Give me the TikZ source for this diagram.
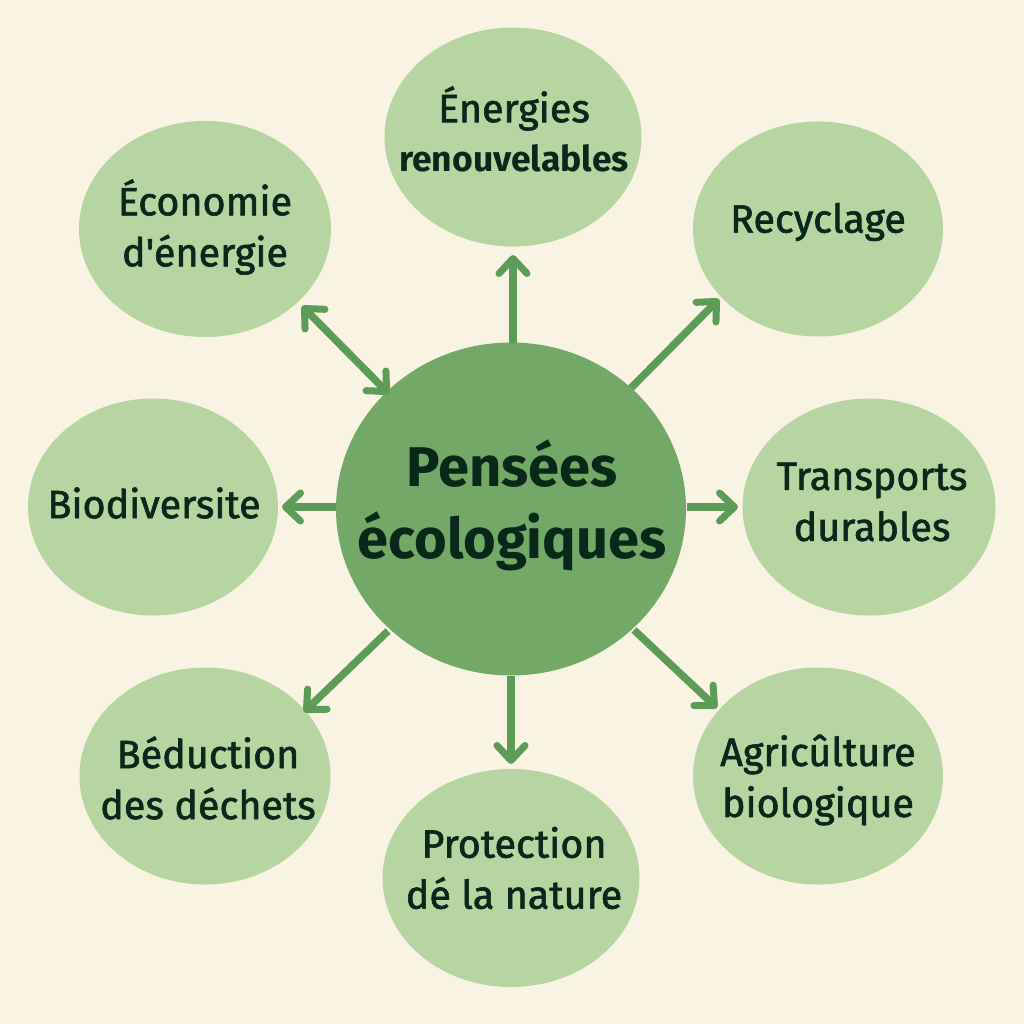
\documentclass[tikz,border=0pt]{standalone}
\usepackage{fontspec}
\setmainfont{Fira Sans}
\newfontfamily\labelfont[FakeBold=1.6]{Fira Sans}
\usetikzlibrary{shapes.geometric,arrows.meta}
\definecolor{bgc}{HTML}{F9F4E1}
\definecolor{outerc}{HTML}{B6D5A0}
\definecolor{innerc}{HTML}{72A966}
\definecolor{linec}{HTML}{5D9C56}
\definecolor{textc}{HTML}{08281A}
\tikzset{
 outernode/.style={ellipse,fill=outerc,inner sep=0pt},
 labeltext/.style={inner sep=0pt,text=textc,align=center,font=\labelfont\fontsize{39.5}{51}\selectfont},
 >={Straight Barb[length=15pt,width=28pt,line width=7pt,round]},
 link/.style={draw=linec,line width=7.5pt,->},
 twolink/.style={draw=linec,line width=7.5pt,<->}
}
\begin{document}
\begin{tikzpicture}[x=1pt,y=-1pt]
\useasboundingbox (0,0) rectangle (1024,1024);
\fill[bgc] (0,0) rectangle (1024,1024);
\node[ellipse,fill=innerc,minimum width=350pt,minimum height=333pt,inner sep=0pt] (c) at (511,509) {};
\node[inner sep=0pt,text=textc,align=center,font=\fontsize{56}{72}\selectfont\bfseries] (cl) at (512,505.5) {Pensées\\écologiques};
\node[outernode,minimum width=257pt,minimum height=219pt] (a) at (513,137) {};
\node[outernode,minimum width=250pt,minimum height=215pt] (b) at (818,229) {};
\node[outernode,minimum width=253pt,minimum height=217pt] (t) at (869,507) {};
\node[outernode,minimum width=250pt,minimum height=217pt] (g) at (818,776) {};
\node[outernode,minimum width=257pt,minimum height=218pt] (p) at (511,878) {};
\node[outernode,minimum width=251pt,minimum height=217pt] (r) at (205,776) {};
\node[outernode,minimum width=250pt,minimum height=217pt] (d) at (153,507) {};
\node[outernode,minimum width=252pt,minimum height=216pt] (e) at (205,229) {};
\node[labeltext,font=\labelfont\fontsize{39.5}{49}\selectfont] (al) at (514,129) {Énergies\\{\rmfamily\bfseries\fontsize{35.5}{49}\selectfont renouvelables}};
\node[labeltext] (bl) at (818,222) {Recyclage};
\node[labeltext] (tl) at (872,502) {Transports\\durables};
\node[labeltext] (gl) at (818,780) {Agricûlture\\biologique};
\node[labeltext] (pl) at (514,868) {Protection\\dé la nature};
\node[labeltext] (rl) at (208,778) {Béduction\\des déchets};
\node[labeltext] (dl) at (154,503) {Biodiversite};
\node[labeltext] (el) at (205,227) {Économie\\d'énergie};
\coordinate (ca) at (513,343); \coordinate (aa) at (513,255);
\coordinate (cb) at (631,388); \coordinate (bb) at (719,299);
\coordinate (ct) at (687,507); \coordinate (tt) at (738,507);
\coordinate (cg) at (634,630); \coordinate (gg) at (717,708);
\coordinate (cp) at (511,676); \coordinate (pp) at (511,764);
\coordinate (cr) at (388,631); \coordinate (rr) at (304,712);
\coordinate (cd) at (336,507); \coordinate (dd) at (282,507);
\coordinate (ce) at (389,394); \coordinate (ee) at (302,306);
\draw[link] (ca) -- (aa);
\draw[link] (cb) -- (bb);
\draw[link] (ct) -- (tt);
\draw[link] (cg) -- (gg);
\draw[link] (cp) -- (pp);
\draw[link] (cr) -- (rr);
\draw[link] (cd) -- (dd);
\draw[twolink] (ce) -- (ee);
\end{tikzpicture}
\end{document}
